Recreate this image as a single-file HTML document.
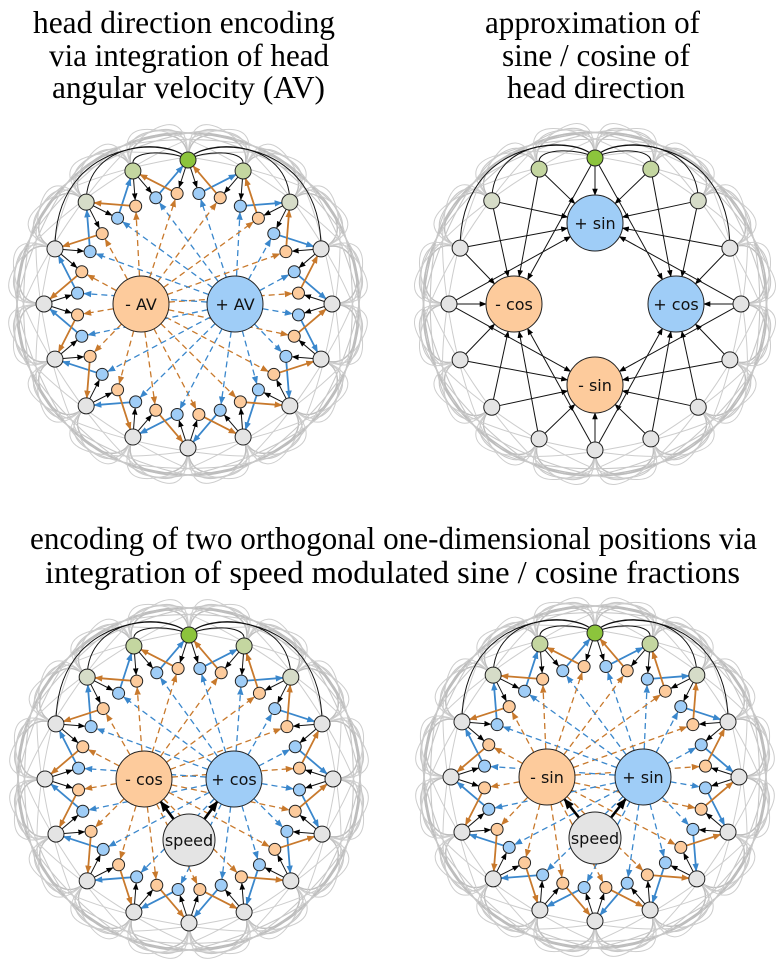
<!DOCTYPE html>
<html><head><meta charset="utf-8">
<style>html,body{margin:0;padding:0;background:#fff;}svg{display:block;}</style>
</head><body>
<svg id="s" width="784" height="970" viewBox="0 0 784 970" xmlns="http://www.w3.org/2000/svg">
<defs>
<marker id="mk" viewBox="0 0 10 10" refX="9" refY="5" markerWidth="7" markerHeight="7" markerUnits="userSpaceOnUse" orient="auto"><path d="M0,1 L10,5 L0,9 z" fill="#000"/></marker>
<marker id="mkb" viewBox="0 0 10 10" refX="9" refY="5" markerWidth="11" markerHeight="11" markerUnits="userSpaceOnUse" orient="auto"><path d="M0,1 L10,5 L0,9 z" fill="#000"/></marker>
<marker id="mo" viewBox="0 0 10 10" refX="9" refY="5" markerWidth="8" markerHeight="8" markerUnits="userSpaceOnUse" orient="auto"><path d="M0,1 L10,5 L0,9 z" fill="#c8792c"/></marker>
<marker id="mbl" viewBox="0 0 10 10" refX="9" refY="5" markerWidth="8" markerHeight="8" markerUnits="userSpaceOnUse" orient="auto"><path d="M0,1 L10,5 L0,9 z" fill="#3a87cc"/></marker>
</defs>
<g font-family="'Liberation Serif', serif" font-size="32" fill="#000" text-anchor="start">
<text x="33" y="33" textLength="302" lengthAdjust="spacingAndGlyphs">head direction encoding</text>
<text x="49" y="66" textLength="280" lengthAdjust="spacingAndGlyphs">via integration of head</text>
<text x="52" y="98" textLength="273" lengthAdjust="spacingAndGlyphs">angular velocity (AV)</text>
<text x="485" y="33" textLength="215" lengthAdjust="spacingAndGlyphs">approximation of</text>
<text x="502" y="66" textLength="188" lengthAdjust="spacingAndGlyphs">sine / cosine of</text>
<text x="507" y="98" textLength="178" lengthAdjust="spacingAndGlyphs">head direction</text>
<text x="30" y="549" textLength="727" lengthAdjust="spacingAndGlyphs">encoding of two orthogonal one-dimensional positions via</text>
<text x="45" y="583" textLength="695" lengthAdjust="spacingAndGlyphs">integration of speed modulated sine / cosine fractions</text>
</g>
<g id="g"></g>
</svg>
<script>
var NS="http://www.w3.org/2000/svg",G=document.getElementById("g");
function el(t,a,p){var e=document.createElementNS(NS,t);for(var k in a)e.setAttribute(k,a[k]);(p||G).appendChild(e);return e;}
var OF="#fdcb9c",BF="#9fcdf7",OS="#c8792c",BS="#3a87cc";
function pt(cx,cy,r,a){var t=a*Math.PI/180;return [cx+r*Math.sin(t),cy-r*Math.cos(t)];}
function line(p,q,r1,r2,attrs){var dx=q[0]-p[0],dy=q[1]-p[1],d=Math.hypot(dx,dy);var ux=dx/d,uy=dy/d;
 var a={x1:p[0]+ux*r1,y1:p[1]+uy*r1,x2:q[0]-ux*r2,y2:q[1]-uy*r2,fill:"none"};for(var k in attrs)a[k]=attrs[k];return el("line",a);}
function circ(p,r,f,sw){return el("circle",{cx:p[0],cy:p[1],r:r,fill:f,stroke:"#222","stroke-width":sw||1});}
function outerColor(k){k=((k%16)+16)%16;if(k==0)return "#8cc43c";if(k==1||k==15)return "#c4d6a0";if(k==2||k==14)return "#d6dcc8";return "#e4e4e4";}
function loops(cx,cy,R){
 var specs=[[3,225,"#bdbdbd",1.4],[4,262,"#c8c8c8",1.1],[5,300,"#cdcdcd",1.0]];
 specs.forEach(function(s){for(var i=0;i<16;i++){var a1=i*22.5,a2=(i+s[0])*22.5;
  var P=pt(cx,cy,R,a1),Q=pt(cx,cy,R,a2),C1=pt(cx,cy,s[1],a1),C2=pt(cx,cy,s[1],a2);
  el("path",{d:"M"+P[0]+","+P[1]+" C"+C1[0]+","+C1[1]+" "+C2[0]+","+C2[1]+" "+Q[0]+","+Q[1],fill:"none",stroke:s[2],"stroke-width":s[3]});}});
}
function arcs(cx,cy,R){
 var T=pt(cx,cy,R,0);
 [[1,14],[2,18],[3,20]].forEach(function(v){[1,-1].forEach(function(s){var P=pt(cx,cy,R,s*v[0]*22.5);
  var h=v[0]==1?T[1]-6:cy-R-v[1];
  el("path",{d:"M"+T[0]+","+T[1]+" C"+(T[0]+s*15)+","+(h-4)+" "+P[0]+","+(h-4)+" "+P[0]+","+(P[1]-(v[0]==1?8:0)),fill:"none",stroke:"#111","stroke-width":1});});});
}
function ring(cx,cy,L,R,lblL,lblR,speed){
 loops(cx,cy,144);arcs(cx,cy,144);
 var O=[];for(var k=0;k<16;k++)O.push(pt(cx,cy,144,k*22.5));
 var S=[];for(var j=0;j<32;j++){var a=j*11.25+5.625;S.push({p:pt(cx,cy,111,a),blue:j%2==0,k:Math.floor(j/2)});}
 var CL=[cx-L,cy],CR=[cx+L,cy];
 S.forEach(function(s){var src=s.blue?CR:CL;line(src,s.p,R,6.5,{stroke:s.blue?BS:OS,"stroke-width":1.3,"stroke-dasharray":"6,4","marker-end":s.blue?"url(#mbl)":"url(#mo)"});});
 S.forEach(function(s){var j=s.k;
  if(s.blue){line(O[j],s.p,8,6.5,{stroke:"#111","stroke-width":1,"marker-end":"url(#mk)"});line(s.p,O[(j+1)%16],6,8,{stroke:BS,"stroke-width":1.8,"marker-end":"url(#mbl)"});}
  else{line(O[(j+1)%16],s.p,8,6.5,{stroke:"#111","stroke-width":1,"marker-end":"url(#mk)"});line(s.p,O[j],6,8,{stroke:OS,"stroke-width":1.8,"marker-end":"url(#mo)"});}
 });
 if(speed){var SP=[cx,cy+61];line(SP,CL,26,28,{stroke:"#000","stroke-width":2.6,"marker-end":"url(#mkb)"});line(SP,CR,26,28,{stroke:"#000","stroke-width":2.6,"marker-end":"url(#mkb)"});}
 O.forEach(function(p,k){circ(p,8,outerColor(k));});
 S.forEach(function(s){circ(s.p,6,s.blue?BF:OF);});
 circ(CL,R,OF);circ(CR,R,BF);
 [[CL,lblL],[CR,lblR]].forEach(function(v){var t=el("text",{x:v[0][0],y:v[0][1]+6,"text-anchor":"middle","font-family":"'DejaVu Sans',sans-serif","font-size":16,fill:"#111"});t.textContent=v[1];});
 if(speed){circ([cx,cy+61],26,"#e4e4e4");var t=el("text",{x:cx,y:cy+67,"text-anchor":"middle","font-family":"'DejaVu Sans',sans-serif","font-size":16,fill:"#111"});t.textContent="speed";}
}
ring(188,304,47,28,"- AV","+ AV",false);
ring(189,779,45,28,"- cos","+ cos",true);
ring(595,777,48,28,"- sin","+ sin",true);
(function(cx,cy){loops(cx,cy,146);arcs(cx,cy,146);
 var O=[];for(var k=0;k<16;k++)O.push(pt(cx,cy,146,k*22.5));
 var B=[[0,"+ sin",BF],[90,"+ cos",BF],[180,"- sin",OF],[270,"- cos",OF]].map(function(b){return {a:b[0],p:pt(cx,cy,81,b[0]),l:b[1],f:b[2]};});
 O.forEach(function(p,k){var a=k*22.5;B.forEach(function(b){var d=Math.abs(((a-b.a)%360+540)%360-180);if(d<=90.1)line(p,b.p,8,28,{stroke:"#111","stroke-width":1,"marker-end":"url(#mk)"});});});
 O.forEach(function(p,k){circ(p,8,outerColor(k));});
 B.forEach(function(b){circ(b.p,28,b.f);var t=el("text",{x:b.p[0],y:b.p[1]+6,"text-anchor":"middle","font-family":"'DejaVu Sans',sans-serif","font-size":16,fill:"#111"});t.textContent=b.l;});
})(595,304);
</script>
</body></html>
